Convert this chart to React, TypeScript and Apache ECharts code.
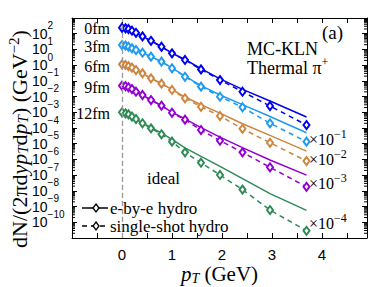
import React, { useEffect, useRef } from "react";
import * as echarts from "echarts";

// transverse momentum sample points (GeV)
const pT = [0.0, 0.07, 0.13, 0.2, 0.28, 0.41, 0.58, 0.79, 1.0, 1.26, 1.58, 1.96, 2.41, 2.96, 3.69];

// log10 of dN/(2π dy pT dpT) (already scaled by ×10^-k)
const ebe0Log = [2.38, 2.34, 2.30, 2.19, 2.06, 1.83, 1.55, 1.17, 0.76, 0.36, -0.22, -0.87, -1.54, -2.28, -3.30];
const single0Log = [2.38, 2.34, 2.30, 2.19, 2.06, 1.83, 1.55, 1.17, 0.75, 0.33, -0.27, -0.95, -1.69, -2.60, -3.81];
const ebe3Log = [1.28, 1.24, 1.17, 1.07, 0.96, 0.79, 0.54, 0.22, -0.18, -0.70, -1.30, -1.90, -2.51, -3.27, -4.30];
const single3Log = [1.28, 1.24, 1.17, 1.07, 0.96, 0.79, 0.54, 0.22, -0.20, -0.74, -1.37, -2.01, -2.68, -3.70, -4.87];
const ebe6Log = [0.05, 0.01, -0.06, -0.16, -0.31, -0.52, -0.84, -1.18, -1.55, -2.03, -2.52, -3.05, -3.73, -4.47, -5.47];
const single6Log = [0.05, 0.01, -0.06, -0.16, -0.31, -0.52, -0.84, -1.18, -1.58, -2.11, -2.65, -3.24, -4.05, -4.94, -6.10];
const ebe9Log = [-1.31, -1.33, -1.41, -1.52, -1.69, -1.90, -2.22, -2.58, -3.00, -3.42, -3.98, -4.58, -5.25, -6.04, -7.00];
const single9Log = [-1.31, -1.33, -1.41, -1.52, -1.69, -1.90, -2.22, -2.58, -3.03, -3.47, -4.13, -4.81, -5.55, -6.50, -7.74];
const ebe12Log = [-3.00, -3.07, -3.13, -3.28, -3.43, -3.68, -3.98, -4.32, -4.72, -5.27, -5.81, -6.44, -7.22, -8.18, -9.24];
const single12Log = [-3.00, -3.07, -3.13, -3.28, -3.43, -3.70, -4.02, -4.40, -4.87, -5.55, -6.21, -6.99, -7.92, -9.22, -10.54];

const centralityLabels = ["0fm", "3fm", "6fm", "9fm", "12fm"];
const colors = ["#0000f0", "#1e9bf0", "#cd853f", "#9400d3", "#2e8b57"];
const ebeSets = [ebe0Log, ebe3Log, ebe6Log, ebe9Log, ebe12Log];
const singleSets = [single0Log, single3Log, single6Log, single9Log, single12Log];
const scaleLabels = ["−1", "−2", "−3", "−4"];

const X_MIN = -1;
const X_MAX = 4.9;
const Y_MIN = 1e-11;
const Y_MAX = 1e3;

const SERIF = "'Liberation Serif', 'Times New Roman', serif";
const SANS = "'Liberation Sans', Arial, sans-serif";

export default function App() {
  const ref = useRef<HTMLDivElement>(null);

  useEffect(() => {
    if (!ref.current) return;
    const chart = echarts.init(ref.current, undefined, { renderer: "svg" });

    const series: any[] = [];
    colors.forEach((color, k) => {
      series.push({
        type: "line",
        name: centralityLabels[k] + " e-by-e",
        data: pT.map((x, i) => [x, Math.pow(10, ebeSets[k][i])]),
        symbol: "none",
        lineStyle: { color, width: 1.5 },
        z: 3,
        ...(k === 0
          ? {
              markLine: {
                silent: true,
                symbol: ["none", "none"],
                label: { show: false },
                lineStyle: { color: "#9a9a9a", type: [5, 3], width: 1.3 },
                data: [{ xAxis: 0 }],
              },
            }
          : {}),
      });
      series.push({
        type: "line",
        name: centralityLabels[k] + " single-shot",
        data: pT.map((x, i) => [x, Math.pow(10, singleSets[k][i])]),
        symbol: "emptyDiamond",
        symbolSize: [6, 8],
        showAllSymbol: true,
        lineStyle: { color, width: 1.5, type: [5, 4] },
        itemStyle: { color, borderWidth: 1.3 },
        z: 4,
      });
    });

    // minor log ticks on left/right frame
    const minorTicks: number[][] = [];
    for (let e = -11; e < 3; e++) {
      for (let m = 2; m <= 9; m++) minorTicks.push([X_MIN, m * Math.pow(10, e)]);
    }
    series.push({
      type: "custom",
      silent: true,
      data: minorTicks,
      encode: { x: 0, y: 1 },
      z: 10,
      renderItem: (params: any, api: any) => {
        const v = api.value(1);
        const l = api.coord([X_MIN, v]);
        const r = api.coord([X_MAX, v]);
        return {
          type: "group",
          children: [
            { type: "line", shape: { x1: l[0], y1: l[1], x2: l[0] + 3, y2: l[1] }, style: { stroke: "#000", lineWidth: 1 } },
            { type: "line", shape: { x1: r[0] - 3, y1: r[1], x2: r[0], y2: r[1] }, style: { stroke: "#000", lineWidth: 1 } },
          ],
        };
      },
    });

    const supRich = {
      b: { fontFamily: SANS, fontSize: 14, color: "#000", verticalAlign: "middle" },
      s: { fontFamily: SANS, fontSize: 10, color: "#000", padding: [0, 0, 16, 0] },
    };

    const textEl = (x: number, y: number, text: string, size: number, align = "left", rich?: any, lineHeight?: number) => ({
      type: "text",
      x,
      y,
      silent: true,
      style: {
        text,
        fontFamily: SERIF,
        fontSize: size,
        fill: "#000",
        align,
        verticalAlign: "middle",
        rich,
        lineHeight,
      },
    });

    const serifRich = {
      n: { fontFamily: SERIF, fontSize: 16, color: "#000", verticalAlign: "middle" },
      s: { fontFamily: SERIF, fontSize: 12, color: "#000", padding: [0, 0, 10, 0] },
    };

    const graphics: any[] = [];
    const labelYs = [28, 46, 66, 87, 113];
    centralityLabels.forEach((t, k) => graphics.push(textEl(110, labelYs[k], t, 16, "right")));
    graphics.push(textEl(247, 49, "MC-KLN", 18));
    graphics.push(
      textEl(247, 68, "{n|Thermal }{n|π}{s|+}", 18, "left", {
        n: { fontFamily: SERIF, fontSize: 18, color: "#000", verticalAlign: "middle" },
        s: { fontFamily: SERIF, fontSize: 12, color: "#000", padding: [0, 0, 13, 0] },
      })
    );
    graphics.push(textEl(322, 32, "(a)", 19));
    const scaleYs = [139, 159, 183, 223];
    scaleLabels.forEach((s, k) => graphics.push(textEl(309, scaleYs[k], `{n|×10}{s|${s}}`, 16, "left", serifRich)));
    graphics.push(textEl(147, 178, "ideal", 17));

    // legend
    graphics.push({ type: "line", silent: true, shape: { x1: 82, y1: 208, x2: 108, y2: 208 }, style: { stroke: "#000", lineWidth: 1.5 } });
    graphics.push({ type: "polygon", silent: true, shape: { points: [[96, 204], [99, 208], [96, 212], [93, 208]] }, style: { fill: "#fff", stroke: "#000", lineWidth: 1.3 } });
    graphics.push({ type: "line", silent: true, shape: { x1: 82, y1: 226, x2: 108, y2: 226 }, style: { stroke: "#000", lineWidth: 1.5, lineDash: [5, 4] } });
    graphics.push({ type: "polygon", silent: true, shape: { points: [[96, 222], [99, 226], [96, 230], [93, 226]] }, style: { fill: "#fff", stroke: "#000", lineWidth: 1.3 } });
    graphics.push(textEl(110, 208, "e-by-e hydro", 17, "left", undefined, 16));
    graphics.push(textEl(110, 226, "single-shot hydro", 17, "left", undefined, 16));

    const xAxisBase = {
      type: "value",
      min: X_MIN,
      max: X_MAX,
      interval: 0.5,
      splitLine: { show: false },
      axisLine: { show: true, onZero: false, lineStyle: { color: "#000", width: 1 } },
      axisTick: { show: true, inside: true, length: 5, lineStyle: { color: "#000" } },
    };
    const yAxisBase = {
      type: "log",
      logBase: 10,
      min: Y_MIN,
      max: Y_MAX,
      interval: 1,
      splitLine: { show: false },
      axisLine: { show: true, onZero: false, lineStyle: { color: "#000", width: 1 } },
      axisTick: { show: true, inside: true, length: 5, lineStyle: { color: "#000" } },
    };

    chart.setOption({
      animation: false,
      backgroundColor: "#fff",
      grid: { left: 72, right: 7, top: 18, bottom: 49, containLabel: false, outerBoundsMode: "none" },
      xAxis: [
        {
          ...xAxisBase,
          position: "bottom",
          axisLabel: {
            show: true,
            margin: 9,
            fontFamily: SANS,
            fontSize: 15,
            lineHeight: 14,
            color: "#000",
            showMaxLabel: false,
            formatter: (v: number) => (Math.abs(v - Math.round(v)) < 1e-6 && v >= 0 ? String(Math.round(v)) : ""),
          },
          name: "{i|p}{t|T}{n| (GeV)}",
          nameLocation: "middle",
          nameGap: 26,
          nameMoveOverlap: false,
          nameTextStyle: {
            rich: {
              i: { fontFamily: SERIF, fontSize: 21, lineHeight: 20, fontStyle: "italic", color: "#000", verticalAlign: "middle" },
              t: { fontFamily: SERIF, fontSize: 14, lineHeight: 14, fontStyle: "italic", color: "#000", padding: [8, 0, 0, 0] },
              n: { fontFamily: SERIF, fontSize: 21, lineHeight: 20, color: "#000", verticalAlign: "middle" },
            },
          },
        },
        { ...xAxisBase, position: "top", axisLabel: { show: false } },
      ],
      yAxis: [
        {
          ...yAxisBase,
          position: "left",
          axisLabel: {
            show: true,
            align: "left",
            margin: 40,
            showMaxLabel: false,
            formatter: (v: number) => {
              const e = Math.round(Math.log10(v));
              if (e > 2) return "";
              return `{b|10}{s|${e < 0 ? "−" : ""}${Math.abs(e)}}`;
            },
            rich: supRich,
          },
          name: "{n|dN/(2πd}{i|yp}{t|T}{n|d}{i|p}{t|T}{n|) (GeV}{s|−2}{n|)}{g| }",
          nameLocation: "middle",
          nameRotate: 90,
          nameGap: 40,
          nameMoveOverlap: false,
          nameTextStyle: {
            rich: {
              n: { fontFamily: SERIF, fontSize: 22, color: "#000", verticalAlign: "middle" },
              i: { fontFamily: SERIF, fontSize: 22, fontStyle: "italic", color: "#000", verticalAlign: "middle" },
              t: { fontFamily: SERIF, fontSize: 15, fontStyle: "italic", color: "#000", padding: [8, 0, 0, 0] },
              s: { fontFamily: SERIF, fontSize: 15, color: "#000", padding: [0, 0, 11, 0] },
              g: { fontFamily: SERIF, fontSize: 10, width: 22, color: "#fff" },
            },
          },
        },
        { ...yAxisBase, position: "right", axisLabel: { show: false } },
      ],
      series,
      graphic: graphics,
    });

    return () => chart.dispose();
  }, []);

  return <div ref={ref} style={{ position: "fixed", left: 0, top: 0, width: 374, height: 287 }} />;
}
